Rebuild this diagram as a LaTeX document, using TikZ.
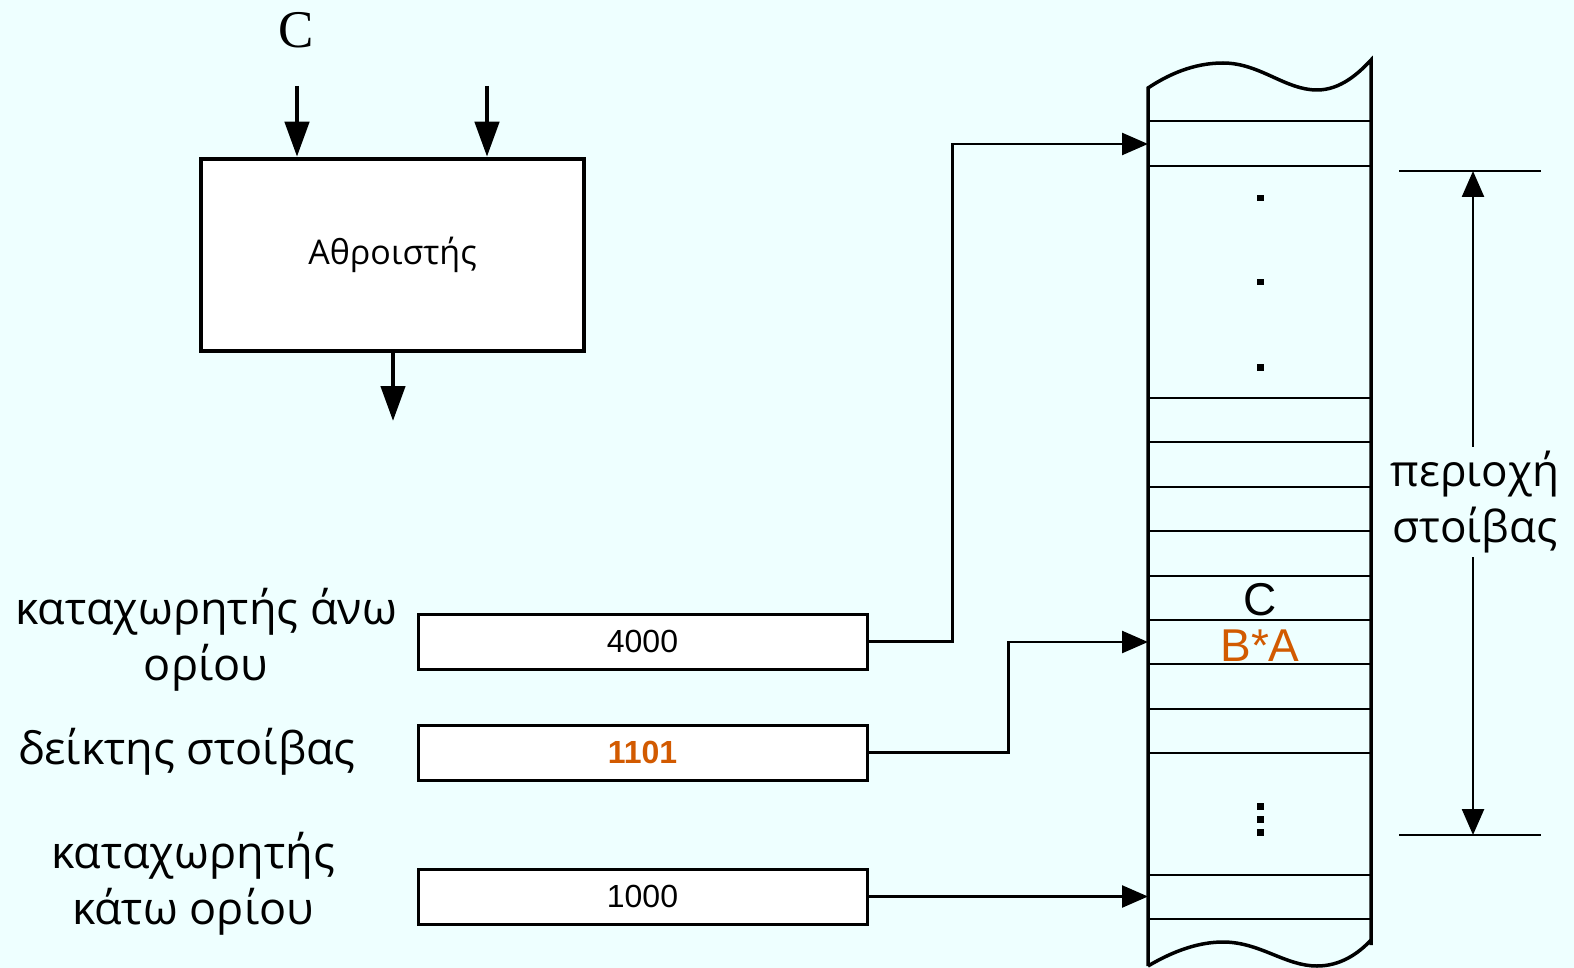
\documentclass[tikz,border=0pt]{standalone}
\usepackage{fontspec}
\setmainfont{Open Sans}
\newfontfamily\numfont{Liberation Sans}
\newfontfamily\serfont{Liberation Serif}
\usepackage{xcolor}
\usetikzlibrary{arrows.meta, positioning}
\definecolor{bgcyan}{RGB}{238,255,255}
\definecolor{hotorange}{RGB}{210,90,0}

\begin{document}
\begin{tikzpicture}[
  x=1pt, y=-1pt,
  every node/.style={inner sep=0pt},
  adder/.style={draw, line width=4.5pt, fill=white, minimum width=383pt,
                minimum height=192pt, font=\fontsize{34}{40}\selectfont},
  reg/.style={draw, line width=3pt, fill=white, minimum width=449pt,
              minimum height=55pt, font=\numfont\fontsize{32}{38}\selectfont},
  lbl/.style={align=center, font=\fontsize{45}{56}\selectfont},
  cellval/.style={font=\numfont\fontsize{46}{46}\selectfont},
  bigarr/.style={-{Triangle[length=35pt, width=24pt]}, line width=4.5pt},
  arr/.style={-{Triangle[length=26pt, width=22pt]}, line width=2.5pt},
  cellline/.style={line width=2.5pt},
  node distance=56pt and 21pt
]

% --- Background ---
\fill[bgcyan] (0,0) rectangle (1574,968);
\useasboundingbox (0,0) rectangle (1574,968);

% --- Adder ---
\node[adder] (adder) at (392.5,255) {Αθροιστής};
\node[font=\serfont\fontsize{53}{53}\selectfont] (cin) at (296,30) {C};
\coordinate (inA) at (297,86);
\coordinate (inB) at (487,86);
\coordinate (sum) at (393,421);
\draw[bigarr] (inA) -- (inA |- adder.north);
\draw[bigarr] (inB) -- (inB |- adder.north);
\draw[bigarr] (adder.south -| sum) -- (sum);

% --- Registers ---
\node[reg] (upper) at (642.5,641.5) {4000};
\node[reg, below=53pt of upper] (sp) {\textcolor{hotorange}{\bfseries 1101}};
\node[reg, below=86pt of sp] (lower) {1000};

\node[lbl] (upperlbl) at (206,640) {καταχωρητής άνω\\ορίου};
\node[lbl] (splbl) at (187,752) {δείκτης στοίβας};
\node[lbl] (lowerlbl) at (193,884) {καταχωρητής\\κάτω ορίου};

% --- Stack memory ---
\draw[line width=3.5pt] (1148,966) -- (1148,88)
  .. controls (1175,70) and (1200,63) .. (1223,63)
  .. controls (1260,63) and (1285,90) .. (1317,90)
  .. controls (1340,90) and (1358,74) .. (1371,60) -- (1371,945);
\draw[line width=3.5pt] (1148,966)
  .. controls (1175,950) and (1200,942) .. (1223,942)
  .. controls (1260,942) and (1285,966) .. (1317,966)
  .. controls (1340,966) and (1358,954) .. (1371,940);
\foreach \y in {121,166,398,442,487,531,576,620,664,709,753,875,919}
  \draw[cellline] (1148,\y) -- (1371,\y);
\foreach \y in {198,282,367}
  \fill (1257,\y-3) rectangle ++(6.5,6.5);
\foreach \y in {806,819,832}
  \fill (1256.5,\y-3) rectangle ++(7,6.5);

\node[cellval] (cval) at (1260,600) {C};
\node[cellval, text=hotorange] (baval) at (1260,646) {B*A};

\coordinate (slotTop) at (1148,144);
\coordinate (slotSP)  at (1148,642);
\coordinate (slotBot) at (1148,896.5);

% --- Pointers ---
\draw[arr] (upper.east) -- ++(84,0) |- (slotTop);
\draw[arr] (sp.east) -- ++(140,0) |- (slotSP);
\draw[arr] (lower.east) -- (slotBot);

% --- Stack area ---
\draw[cellline] (1399,171) -- (1541,171);
\draw[cellline] (1399,835) -- (1541,835);
\coordinate (areaTop) at (1473,171);
\coordinate (areaBot) at (1473,835);
\node[lbl, font=\fontsize{44}{56}\selectfont, inner ysep=4pt] (area) at (1475,502) {περιοχή\\στοίβας};
\draw[arr] (area.north -| areaTop) -- (areaTop);
\draw[arr] (area.south -| areaBot) -- (areaBot);

\end{tikzpicture}
\end{document}
